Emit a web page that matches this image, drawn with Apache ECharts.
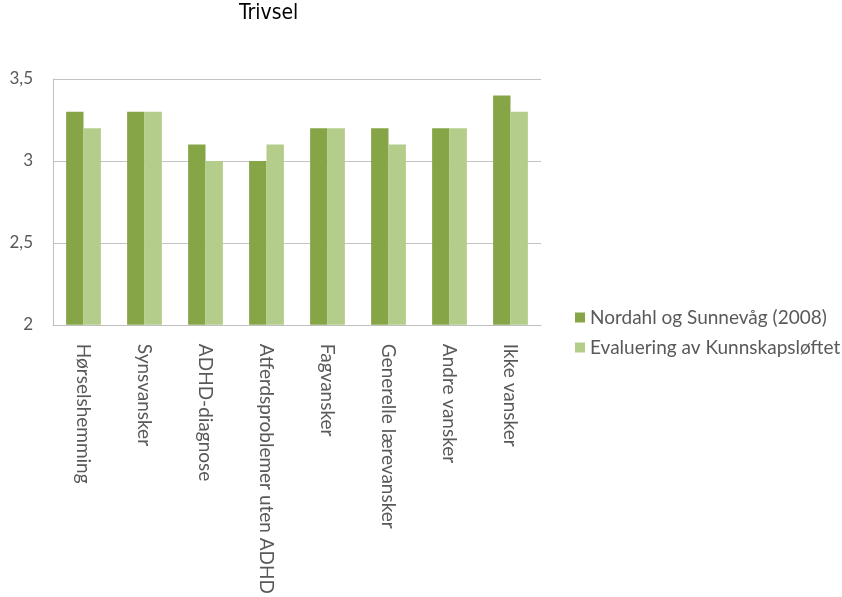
<!DOCTYPE html>
<html>
<head>
<meta charset="utf-8">
<script src="https://cdn.jsdelivr.net/npm/echarts@6/dist/echarts.min.js"></script>
<style>
  html, body { margin: 0; padding: 0; background: #ffffff; }
  #chart { width: 842px; height: 597px; }
</style>
</head>
<body>
<div id="chart"></div>
<script>
// Well-being scores by type of difficulty, two studies
const categories = [
  'Hørselshemming',
  'Synsvansker',
  'ADHD-diagnose',
  'Atferdsproblemer uten ADHD',
  'Fagvansker',
  'Generelle lærevansker',
  'Andre vansker',
  'Ikke vansker'
];
const seriesNames = ['Nordahl og Sunnevåg (2008)', 'Evaluering av Kunnskapsløftet'];
const nordahl = [3.3, 3.3, 3.1, 3.0, 3.2, 3.2, 3.2, 3.4];
const evaluering = [3.2, 3.3, 3.0, 3.1, 3.2, 3.1, 3.2, 3.3];
const yTicks = [2, 2.5, 3, 3.5];

const textFont = 'Lato';
const textColor = '#595959';

const chart = echarts.init(document.getElementById('chart'));
chart.setOption({
  backgroundColor: '#ffffff',
  animation: false,
  title: {
    text: 'Trivsel',
    left: 239,
    top: 3,
    padding: 0,
    textStyle: {
      fontFamily: '"DejaVu Sans Condensed", "DejaVu Sans"',
      fontWeight: 'normal',
      fontSize: 21,
      color: '#000000'
    }
  },
  legend: {
    orient: 'vertical',
    left: 575,
    top: 308,
    padding: 0,
    itemWidth: 10,
    itemHeight: 10,
    itemGap: 11,
    icon: 'rect',
    textStyle: { fontFamily: textFont, fontSize: 19, color: textColor },
    data: seriesNames
  },
  grid: { left: 53, right: 301, top: 79, bottom: 267, containLabel: false },
  xAxis: {
    type: 'category',
    data: categories,
    axisLine: { lineStyle: { color: '#bfbfbf', width: 1 } },
    axisTick: { show: false },
    axisLabel: {
      rotate: -90,
      margin: 19,
      interval: 0,
      fontFamily: textFont,
      fontSize: 19,
      color: textColor
    }
  },
  yAxis: {
    type: 'value',
    min: yTicks[0],
    max: yTicks[yTicks.length - 1],
    interval: 0.5,
    axisLine: { show: true, lineStyle: { color: '#bfbfbf' } },
    axisTick: { show: false },
    splitLine: { lineStyle: { color: '#c4c4c4', width: 1 } },
    axisLabel: {
      margin: 20,
      fontFamily: textFont,
      fontSize: 17,
      color: textColor,
      formatter: v => String(v).replace('.', ',')
    }
  },
  series: [
    {
      name: seriesNames[0],
      type: 'bar',
      data: nordahl,
      barGap: '0%',
      barCategoryGap: '43%',
      itemStyle: { color: '#86a547' }
    },
    {
      name: seriesNames[1],
      type: 'bar',
      data: evaluering,
      itemStyle: { color: '#b4cd8a' }
    }
  ]
});
</script>
</body>
</html>
